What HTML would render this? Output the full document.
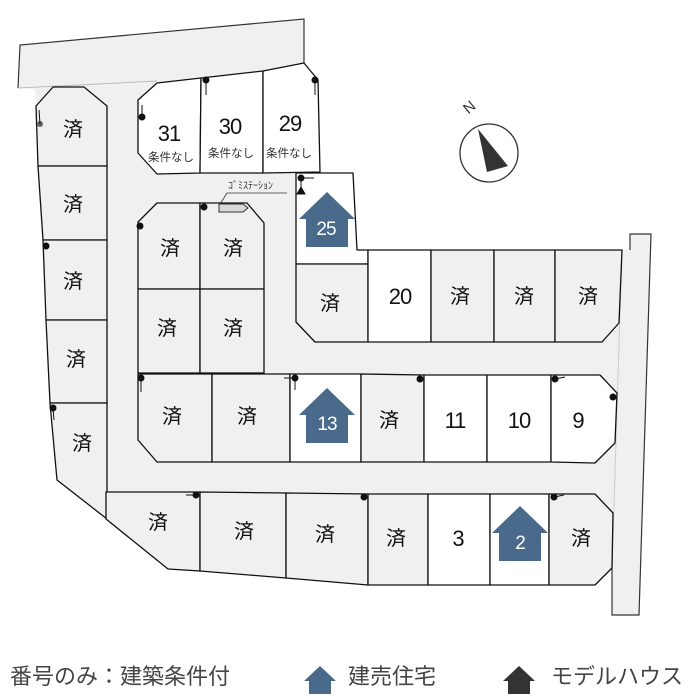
<!DOCTYPE html>
<html><head><meta charset="utf-8"><style>
html,body{margin:0;padding:0;background:#fff;}
svg{display:block;}
text{font-family:"Liberation Sans","Noto Sans CJK JP",sans-serif;}
</style></head><body>
<svg width="696" height="698" viewBox="0 0 696 698" xmlns="http://www.w3.org/2000/svg">
<defs>
<path id="house" d="M0,0 L28,27 L21,27 L21,55 L-21,55 L-21,27 L-28,27 Z"/>
</defs>
<!-- site / road base -->
<polygon fill="#f0f0f0" stroke="none" points="20,45 304,19 304,63 318,80 320,172 353,173 357,250 630,250 630,234 651,234 639,615 612,615 612,568 595,585 368,585 200,571 168,569 57,480 36,106 35,89 18,88"/>
<!-- top strip outline -->
<polyline fill="none" stroke="#333" stroke-width="1.2" points="18,88 20,45 304,19 304,63"/>
<line x1="18" y1="88" x2="157" y2="81" stroke="#bbb" stroke-width="1"/>
<!-- right road -->
<polyline fill="none" stroke="#333" stroke-width="1.2" points="630,250 630,234 651,234 639,615 612,615 612,568"/>
<line x1="622" y1="250" x2="612" y2="568" stroke="#ccc" stroke-width="1"/>

<g stroke="#111" stroke-width="1.3" stroke-linejoin="round">
<!-- 31 30 29 -->
<polygon fill="#fff" points="157,83 201,78 200,173 157,174 138,153 138,100"/>
<polygon fill="#fff" points="201,78 263,71 263,173 200,173"/>
<polygon fill="#fff" points="263,71 304,63 318,80 320,172 263,173"/>
<!-- left column -->
<polygon fill="#f0f0f0" points="36,106 53,87 84,87 107,106 107,166 38,166"/>
<polygon fill="#f0f0f0" points="38,166 107,166 107,240 43,240"/>
<polygon fill="#f0f0f0" points="43,240 107,240 107,320 46,320"/>
<polygon fill="#f0f0f0" points="46,320 107,320 107,403 50,403"/>
<polygon fill="#f0f0f0" points="50,403 107,403 107,519 57,480"/>
<!-- central block -->
<polygon fill="#f0f0f0" points="157,203 200,203 200,289 138,289 138,222"/>
<polygon fill="#f0f0f0" points="200,203 247,203 264,223 264,289 200,289"/>
<polygon fill="#f0f0f0" points="138,289 200,289 200,373 138,373"/>
<polygon fill="#f0f0f0" points="200,289 264,289 264,373 200,373"/>
<!-- upper right -->
<polygon fill="#fff" points="296,173 353,173 357,250 368,250 368,264 296,264"/>
<polygon fill="#f0f0f0" points="296,264 368,264 368,342 315,342 296,322"/>
<polygon fill="#fff" points="368,250 431,250 431,342 368,342"/>
<polygon fill="#f0f0f0" points="431,250 494,250 494,342 431,342"/>
<polygon fill="#f0f0f0" points="494,250 555,250 555,342 494,342"/>
<polygon fill="#f0f0f0" points="555,250 622,250 619,323 602,342 555,342"/>
<!-- middle row -->
<polygon fill="#f0f0f0" points="138,374 212,374 212,462 157,462 138,440"/>
<polygon fill="#f0f0f0" points="212,374 290,374 290,462 212,462"/>
<polygon fill="#fff" points="290,374 361,374 361,462 290,462"/>
<polygon fill="#f0f0f0" points="361,374 424,375 424,462 361,462"/>
<polygon fill="#fff" points="424,375 487,375 487,462 424,462"/>
<polygon fill="#fff" points="487,375 551,375 551,462 487,462"/>
<polygon fill="#fff" points="551,375 600,375 617,393 615,443 595,463 551,462"/>
<!-- bottom row -->
<polygon fill="#f0f0f0" points="106,492 200,492 200,571 168,569 106,519"/>
<polygon fill="#f0f0f0" points="200,492 286,493 286,578 200,571"/>
<polygon fill="#f0f0f0" points="286,493 368,494 368,585 286,578"/>
<polygon fill="#f0f0f0" points="368,494 428,494 428,585 368,585"/>
<polygon fill="#fff" points="428,494 490,494 490,585 428,585"/>
<polygon fill="#fff" points="490,494 549,494 549,585 490,585"/>
<polygon fill="#f0f0f0" points="549,494 595,494 613,513 612,568 595,585 549,585"/>
</g>

<!-- gomi station -->
<polygon fill="#d8d8d8" stroke="#333" stroke-width="1" points="219,204 243,204 248,208 243,212 219,212"/>
<polyline fill="none" stroke="#333" stroke-width="0.8" points="220,204 227,193 287,193"/>
<text x="228" y="189" font-size="10" fill="#333">ｺﾞﾐｽﾃｰｼｮﾝ</text>

<!-- dots -->
<g fill="#111" stroke="#111" stroke-width="1">
<circle cx="40" cy="124" r="3" fill="#666" stroke="none"/><line x1="39" y1="110" x2="40" y2="124"/>
<circle cx="142" cy="117" r="3"/><line x1="142" y1="105" x2="142" y2="117"/>
<circle cx="206" cy="80" r="3"/><line x1="206" y1="80" x2="206" y2="95"/>
<circle cx="315" cy="80" r="3"/><line x1="315" y1="80" x2="315" y2="95"/>
<circle cx="46" cy="246" r="3"/>
<circle cx="53" cy="408" r="3"/><line x1="53" y1="408" x2="54" y2="420"/>
<circle cx="140" cy="226" r="3"/>
<circle cx="204" cy="207" r="3"/>
<circle cx="301" cy="178" r="3"/><line x1="301" y1="178" x2="314" y2="178"/><line x1="301" y1="178" x2="301" y2="192"/>
<polygon points="297,194 305,194 301,187"/>
<circle cx="141" cy="378" r="3"/><line x1="141" y1="378" x2="141" y2="392"/>
<circle cx="295" cy="378" r="3"/><line x1="284" y1="378" x2="295" y2="378"/><line x1="295" y1="378" x2="295" y2="390"/>
<circle cx="420" cy="379" r="3"/>
<circle cx="555" cy="379" r="3"/><line x1="555" y1="379" x2="565" y2="377"/>
<circle cx="613" cy="397" r="3"/>
<circle cx="196" cy="495" r="3"/><line x1="186" y1="495" x2="196" y2="495"/>
<circle cx="364" cy="497" r="3"/>
<circle cx="554" cy="497" r="3"/><line x1="554" y1="497" x2="564" y2="495"/>
</g>

<!-- labels -->
<g font-size="20" fill="#111" text-anchor="middle">
<text x="73" y="136">済</text><text x="73" y="211">済</text><text x="73" y="288">済</text>
<text x="76" y="366">済</text><text x="82" y="450">済</text>
<text x="170" y="255">済</text><text x="233" y="255">済</text>
<text x="167" y="335">済</text><text x="233" y="335">済</text>
<text x="330" y="310">済</text><text x="460" y="303">済</text><text x="524" y="303">済</text><text x="588" y="303">済</text>
<text x="172" y="423">済</text><text x="247" y="423">済</text><text x="389" y="427">済</text>
<text x="158" y="529">済</text><text x="244" y="538">済</text><text x="325" y="541">済</text><text x="396" y="545">済</text><text x="581" y="545">済</text>
</g>
<g font-size="22" fill="#111" text-anchor="middle" letter-spacing="-1">
<text x="169" y="141">31</text><text x="230" y="134">30</text><text x="290" y="131">29</text>
<text x="400" y="304">20</text>
<text x="455" y="428">11</text><text x="519" y="428">10</text><text x="578" y="428">9</text>
<text x="458" y="546">3</text>
</g>
<g font-size="11.5" fill="#333" text-anchor="middle">
<text x="171" y="161">条件なし</text><text x="231" y="157">条件なし</text><text x="289" y="157">条件なし</text>
</g>

<!-- houses -->
<g fill="#4a6a8c">
<use href="#house" x="327" y="192"/>
<use href="#house" x="327" y="388"/>
<use href="#house" x="520" y="506"/>
</g>
<g font-size="19" fill="#fff" text-anchor="middle" letter-spacing="-1">
<text x="326" y="235">25</text><text x="327" y="430">13</text><text x="520" y="549">2</text>
</g>

<!-- compass -->
<circle cx="489" cy="153" r="29" fill="#fff" stroke="#333" stroke-width="1.3"/>
<polygon fill="#333" points="478,129 508,166 487,172"/>
<text x="470" y="112" font-size="15" fill="#333" transform="rotate(-40 470 108)" text-anchor="middle">N</text>

<!-- legend -->
<g font-size="22" fill="#444">
<text x="10" y="684">番号のみ：建築条件付</text>
<text x="348" y="684">建売住宅</text>
<text x="551" y="684">モデルハウス</text>
</g>
<path fill="#4a6a8c" d="M320,666 L336,681 L331,681 L331,694 L309,694 L309,681 L304,681 Z"/>
<path fill="#333" d="M519,666 L535,681 L530,681 L530,694 L508,694 L508,681 L503,681 Z"/>
</svg>
</body></html>
